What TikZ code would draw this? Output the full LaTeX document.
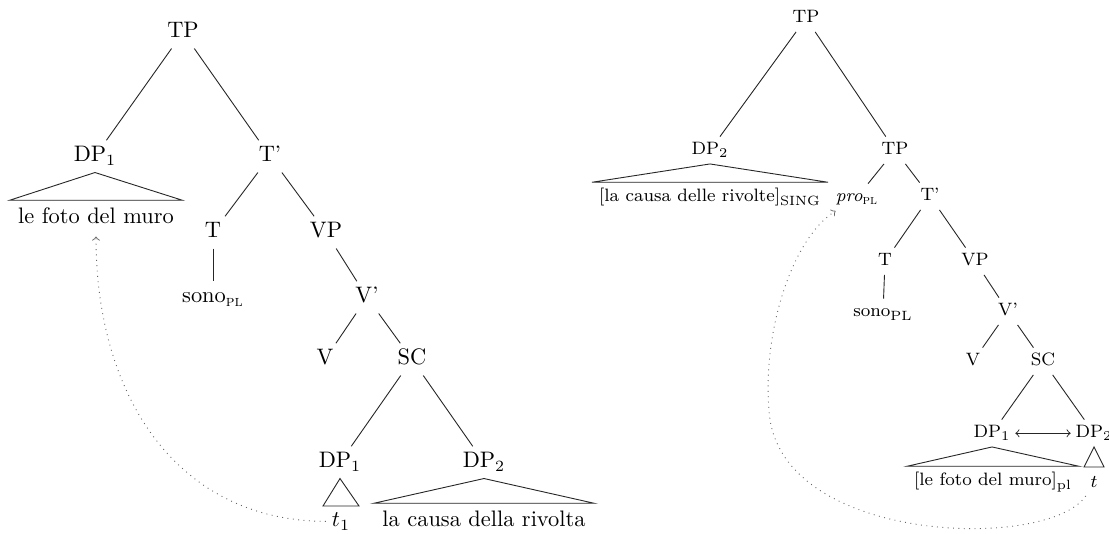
\documentclass[tikz,border=0pt]{standalone}
\usepackage{fontspec}
\usetikzlibrary{calc}
\begin{document}
\begin{tikzpicture}[x=0.4464pt,y=-0.4464pt,
  edge/.style={line width=0.4pt,draw=black!85},
  L/.style={font=\fontsize{10}{12}\selectfont, inner xsep=2.5pt, inner ysep=2.5pt, text height=7pt, text depth=2pt, anchor=base},
  Ltxt/.style={font=\fontsize{10}{12}\selectfont, inner xsep=3.6pt, inner ysep=3.4pt, text height=7pt, text depth=2pt, anchor=base},
  R/.style={font=\fontsize{8}{10}\selectfont, inner xsep=2pt, inner ysep=2.2pt, text height=5.8pt, text depth=1.6pt, anchor=base},
  Rtxt/.style={font=\fontsize{8}{10}\selectfont, inner xsep=3pt, inner ysep=2.6pt, text height=6pt, text depth=1.6pt, anchor=base},
  trace/.style={dotted, line width=0.4pt, draw=black!60, ->}]
\fill[white] (0,0) rectangle (1109,534);
\useasboundingbox (0,0) rectangle (1109,534);

% ---------- left tree ----------
\node[L] (TP) at (183,38) {TP};
\node[L] (DP1) at (95,162) {DP$_1$};
\node[L] (Tb) at (270,162) {T'};
\node[Ltxt] (foto) at (96,224) {le foto del muro};
\node[L] (T) at (213,238) {T};
\node[L] (VP) at (326,238) {VP};
\node[L] (sono) at (213,303) {sono\textsubscript{\textsc{pl}}};
\node[L] (Vb) at (367,303) {V'};
\node[L] (V) at (325,365) {V};
\node[L] (SC) at (412,365) {SC};
\node[L] (DPa) at (340,468) {DP$_1$};
\node[L] (DPb) at (484,468) {DP$_2$};
\node[L] (t1) at (341,527) {$t_1$};
\node[Ltxt] (causa) at (484,527) {la causa della rivolta};

\draw[edge] (TP) -- (DP1);
\draw[edge] (TP) -- (Tb);
\draw[edge] (Tb) -- (T);
\draw[edge] (Tb) -- (VP);
\draw[edge] (T) -- (sono);
\draw[edge] (VP) -- (Vb);
\draw[edge] (Vb) -- (V);
\draw[edge] (Vb) -- (SC);
\draw[edge] (SC) -- (DPa);
\draw[edge] (SC) -- (DPb);
\draw[edge] (DP1.south) -- (foto.north west) -- (foto.north east) -- cycle;
\draw[edge] (DPb.south) -- (causa.north west) -- (causa.north east) -- cycle;
\draw[edge] (DPa.south) -- ($(t1.base)+(-18,-21)$) -- ($(t1.base)+(18,-21)$) -- cycle;
\draw[trace] (t1) .. controls (180,521) and (96,400) .. (foto);

% ---------- right tree ----------
\node[R] (rTP) at (806,23) {TP};
\node[R] (rDP2) at (710,155) {DP$_2$};
\node[R] (rTP2) at (895,155) {TP};
\node[Rtxt] (rivolte) at (710,202) {[la causa delle rivolte]\textsubscript{SING}};
\node[R] (pro) at (857,202) {\textit{pro}\textsubscript{\textsc{pl}}};
\node[R] (rTb) at (930,201) {T'};
\node[R] (rT) at (885,266) {T};
\node[R] (rVP) at (975,266) {VP};
\node[R] (rsono) at (883,317) {sono\textsubscript{PL}};
\node[R] (rVb) at (1008,316) {V'};
\node[R] (rV) at (973,366) {V};
\node[R] (rSC) at (1043,366) {SC};
\node[R] (rDPa) at (992,438) {DP$_1$};
\node[R] (rDPb) at (1094,438) {DP$_2$};
\node[Rtxt] (rfoto) at (993,486) {[le foto del muro]\textsubscript{pl}};
\node[R] (rt) at (1094,488) {$t$};

\draw[edge] (rTP) -- (rDP2);
\draw[edge] (rTP) -- (rTP2);
\draw[edge] (rTP2) -- (pro);
\draw[edge] (rTP2) -- (rTb);
\draw[edge] (rTb) -- (rT);
\draw[edge] (rTb) -- (rVP);
\draw[edge] (rT) -- (rsono);
\draw[edge] (rVP) -- (rVb);
\draw[edge] (rVb) -- (rV);
\draw[edge] (rVb) -- (rSC);
\draw[edge] (rSC) -- (rDPa);
\draw[edge] (rSC) -- (rDPb);
\draw[edge] (rDP2.south) -- (rivolte.north west) -- (rivolte.north east) -- cycle;
\draw[edge] (rDPa.south) -- (rfoto.north west) -- (rfoto.north east) -- cycle;
\draw[edge] (rDPb.south) -- ($(rt.base)+(-10,-21)$) -- ($(rt.base)+(10,-21)$) -- cycle;
\draw[edge,<->] (rDPa) -- (rDPb);
\draw[trace] (rt) .. controls (1050,550) and (790,545) .. (770,420) .. controls (760,340) and (790,240) .. (pro);
\end{tikzpicture}
\end{document}
